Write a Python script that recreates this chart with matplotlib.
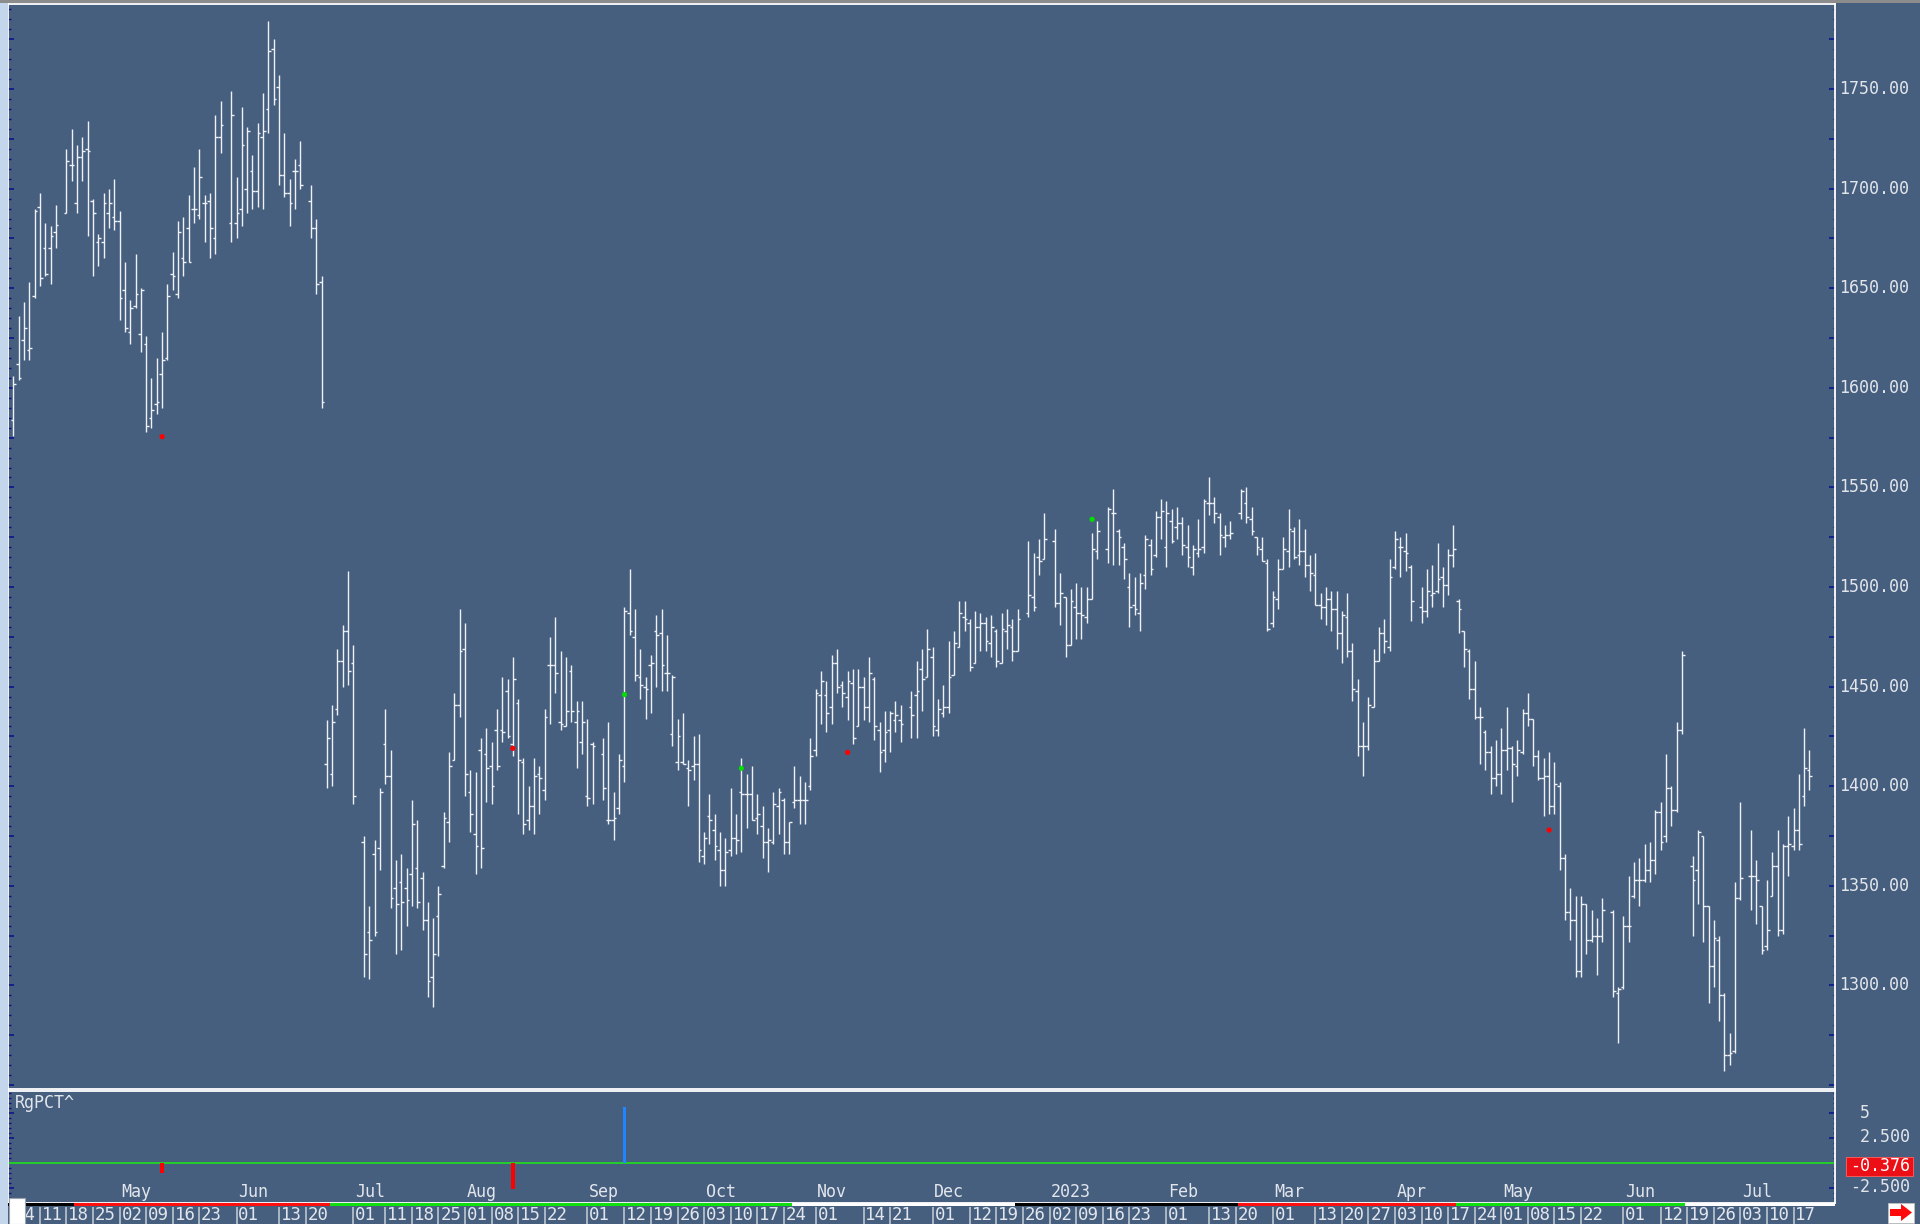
import numpy as np
import pandas as pd
import matplotlib
matplotlib.use("Agg")
import matplotlib.pyplot as plt
from matplotlib.ticker import MultipleLocator
from matplotlib.patches import Rectangle, Polygon
from matplotlib.transforms import blended_transform_factory

# ---------------- data ----------------
session_start = "2022-04-04"
session_end = "2023-07-20"
holidays = ["2022-04-15", "2022-05-30", "2022-06-20", "2022-07-04", "2022-09-05",
            "2022-11-24", "2022-12-26", "2023-01-02", "2023-01-16", "2023-02-20",
            "2023-04-07", "2023-05-29", "2023-06-19", "2023-07-04"]

opens = [
    1584, 1612, 1624, 1619, 1646, 1691, 1670, 1670, 1678,
    1688, 1712, 1693, 1716, 1720, 1694, 1673, 1673, 1688, 1686,
    1684, 1649, 1628, 1641, 1627, 1622, 1585, 1592, 1607, 1615,
    1657, 1647, 1665, 1680, 1690, 1687, 1693, 1694, 1675, 1726,
    1683, 1683, 1690, 1700, 1709, 1699, 1726, 1740, 1770, 1751,
    1707, 1698, 1709, 1712,
    1694, 1680, 1653, 1411, 1406, 1439, 1463, 1478, 1462,
    1372, 1327, 1366, 1369, 1421, 1405, 1349, 1352, 1349, 1356,
    1359, 1354, 1333, 1304, 1335, 1360, 1382, 1413, 1441, 1469,
    1397, 1376, 1418, 1416, 1410, 1428, 1428, 1448, 1421, 1442,
    1412, 1383, 1390, 1406, 1398, 1461, 1461, 1432, 1430, 1458,
    1432, 1422, 1395, 1421,
    1416, 1383, 1383, 1389, 1410, 1487, 1475, 1455, 1450, 1461,
    1478, 1477, 1457, 1426, 1412, 1412, 1409, 1410, 1411, 1365,
    1385, 1378, 1368, 1358, 1368, 1374, 1397, 1396, 1396, 1384,
    1380, 1372, 1372, 1390, 1393, 1372, 1392, 1393, 1393, 1400,
    1418, 1446, 1446, 1440, 1462, 1451, 1445, 1452, 1430, 1450,
    1440, 1454, 1428, 1418, 1428, 1433, 1433,
    1440, 1446, 1459, 1455, 1465, 1428, 1437, 1440, 1456, 1470,
    1485, 1482, 1462, 1480, 1482, 1472, 1478, 1462, 1478, 1480, 1468,
    1487, 1495, 1515, 1514,
    1523, 1492, 1495, 1471, 1490, 1487, 1485, 1494, 1518,
    1519, 1537, 1528, 1520, 1500, 1491, 1487, 1506, 1521, 1516,
    1535, 1520, 1533, 1530, 1532, 1520, 1510, 1517, 1520, 1542,
    1542, 1535, 1525, 1526,
    1537, 1542, 1534, 1525, 1519, 1512, 1482, 1494, 1509, 1518,
    1528, 1516, 1518, 1511, 1506, 1491, 1490, 1494, 1489, 1477,
    1485, 1468, 1448, 1420, 1420, 1440, 1463, 1477, 1470, 1510,
    1520, 1518, 1510,
    1490, 1488, 1496, 1498, 1505, 1501, 1516, 1493, 1478, 1468,
    1449, 1435, 1427, 1417, 1404, 1406, 1418, 1419, 1410, 1417,
    1437, 1434, 1415, 1404, 1405, 1390, 1400, 1364, 1337, 1333,
    1307, 1341, 1323, 1325, 1325,
    1337, 1296, 1299, 1330, 1345, 1353, 1353, 1358, 1363, 1387,
    1375, 1399, 1388, 1428,
    1360, 1358, 1375, 1340, 1310, 1323, 1295, 1265, 1267, 1344,
    1355, 1355, 1340, 1320, 1345, 1360, 1328, 1370, 1370, 1378, 1395, 1408,
]

highs = [
    1606, 1636, 1643, 1653, 1690, 1698, 1683, 1681, 1692,
    1720, 1730, 1722, 1726, 1734, 1695, 1677, 1698, 1700, 1705,
    1689, 1663, 1644, 1667, 1650, 1626, 1605, 1615, 1628, 1652,
    1668, 1684, 1686, 1697, 1711, 1720, 1697, 1698, 1737, 1744,
    1749, 1706, 1741, 1731, 1717, 1733, 1748, 1784, 1775, 1757,
    1728, 1705, 1715, 1724,
    1702, 1685, 1656, 1433, 1441, 1469, 1481, 1508, 1471,
    1375, 1340, 1373, 1399, 1439, 1418, 1363, 1366, 1359, 1393,
    1383, 1357, 1342, 1334, 1350, 1387, 1417, 1447, 1489, 1482,
    1408, 1407, 1424, 1429, 1422, 1439, 1455, 1454, 1465, 1444,
    1414, 1400, 1414, 1410, 1439, 1475, 1485, 1468, 1465, 1461,
    1443, 1443, 1434, 1422,
    1424, 1432, 1397, 1416, 1490, 1509, 1489, 1469, 1455, 1466,
    1486, 1489, 1476, 1456, 1434, 1437, 1413, 1425, 1426, 1377,
    1396, 1386, 1377, 1374, 1399, 1386, 1414, 1406, 1410, 1396,
    1390, 1379, 1397, 1399, 1394, 1382, 1410, 1405, 1402, 1424,
    1449, 1458, 1453, 1466, 1469, 1453, 1458, 1459, 1459, 1455,
    1465, 1455, 1432, 1438, 1438, 1443, 1441,
    1448, 1463, 1469, 1479, 1470, 1444, 1451, 1473, 1478, 1493,
    1493, 1484, 1488, 1487, 1485, 1486, 1479, 1487, 1489, 1484, 1489,
    1523, 1517, 1524, 1537,
    1529, 1507, 1495, 1499, 1502, 1500, 1500, 1527, 1533,
    1540, 1549, 1529, 1522, 1507, 1505, 1507, 1526, 1524, 1538,
    1544, 1543, 1539, 1540, 1535, 1531, 1521, 1534, 1544, 1555,
    1545, 1537, 1531, 1533,
    1549, 1550, 1540, 1525, 1525, 1514, 1498, 1514, 1525, 1539,
    1530, 1534, 1529, 1516, 1517, 1497, 1500, 1498, 1498, 1488,
    1497, 1472, 1454, 1432, 1445, 1469, 1480, 1484, 1514, 1528,
    1525, 1527, 1511,
    1500, 1509, 1511, 1522, 1510, 1519, 1531, 1494, 1478, 1469,
    1463, 1440, 1428, 1420, 1423, 1429, 1440, 1420, 1423, 1439,
    1447, 1434, 1418, 1414, 1417, 1412, 1402, 1366, 1349, 1345,
    1345, 1341, 1338, 1334, 1344,
    1338, 1299, 1335, 1355, 1362, 1364, 1371, 1372, 1388, 1392,
    1416, 1400, 1432, 1468,
    1365, 1378, 1375, 1340, 1333, 1325, 1296, 1276, 1352, 1392,
    1378, 1363, 1340, 1353, 1367, 1378, 1371, 1385, 1389, 1406, 1429, 1418,
]

lows = [
    1576, 1604, 1614, 1614, 1645, 1651, 1656, 1652, 1670,
    1688, 1704, 1688, 1704, 1676, 1656, 1661, 1665, 1680, 1679,
    1634, 1628, 1622, 1640, 1618, 1578, 1580, 1587, 1590, 1614,
    1649, 1645, 1656, 1663, 1683, 1685, 1673, 1665, 1667, 1718,
    1673, 1675, 1681, 1688, 1690, 1691, 1690, 1728, 1742, 1702,
    1696, 1681, 1690, 1700,
    1675, 1647, 1590, 1399, 1400, 1436, 1450, 1451, 1391,
    1304, 1303, 1325, 1358, 1401, 1339, 1316, 1318, 1330, 1340,
    1339, 1328, 1294, 1289, 1315, 1359, 1372, 1413, 1435, 1395,
    1377, 1356, 1359, 1392, 1391, 1408, 1422, 1424, 1415, 1386,
    1376, 1378, 1376, 1386, 1393, 1431, 1447, 1428, 1430, 1432,
    1409, 1416, 1390, 1391,
    1393, 1381, 1373, 1386, 1402, 1476, 1453, 1444, 1434, 1437,
    1450, 1448, 1448, 1420, 1408, 1411, 1390, 1403, 1362, 1361,
    1371, 1363, 1350, 1350, 1365, 1366, 1367, 1379, 1383, 1376,
    1364, 1357, 1371, 1376, 1366, 1366, 1389, 1381, 1381, 1398,
    1415, 1431, 1427, 1431, 1447, 1440, 1433, 1421, 1430, 1433,
    1432, 1423, 1407, 1412, 1417, 1427, 1422,
    1424, 1424, 1438, 1455, 1425, 1425, 1435, 1437, 1456, 1470,
    1478, 1458, 1462, 1468, 1468, 1465, 1460, 1462, 1469, 1463, 1468,
    1485, 1488, 1506, 1514,
    1490, 1481, 1465, 1471, 1474, 1474, 1482, 1494, 1514,
    1512, 1511, 1511, 1504, 1480, 1486, 1478, 1499, 1506, 1515,
    1524, 1510, 1522, 1524, 1516, 1510, 1506, 1515, 1517, 1536,
    1532, 1516, 1520, 1524,
    1534, 1532, 1526, 1516, 1513, 1478, 1480, 1489, 1509, 1510,
    1514, 1511, 1505, 1498, 1491, 1484, 1481, 1478, 1469, 1462,
    1465, 1443, 1415, 1405, 1418, 1440, 1463, 1467, 1468, 1509,
    1505, 1508, 1483,
    1482, 1485, 1490, 1497, 1490, 1496, 1510, 1477, 1460, 1444,
    1434, 1411, 1408, 1396, 1400, 1396, 1408, 1392, 1405, 1416,
    1430, 1410, 1403, 1385, 1386, 1386, 1358, 1333, 1323, 1304,
    1304, 1316, 1322, 1305, 1322,
    1294, 1271, 1298, 1322, 1344, 1340, 1352, 1352, 1356, 1368,
    1372, 1380, 1387, 1426,
    1325, 1341, 1322, 1291, 1299, 1282, 1257, 1260, 1266, 1343,
    1338, 1331, 1316, 1318, 1345, 1325, 1326, 1355, 1368, 1368, 1390, 1398,
]

closes = [
    1602, 1605, 1630, 1620, 1689, 1655, 1657, 1676, 1682,
    1714, 1712, 1716, 1719, 1719, 1688, 1675, 1693, 1693, 1684,
    1645, 1630, 1640, 1647, 1649, 1581, 1589, 1593, 1614, 1646,
    1656, 1678, 1663, 1663, 1690, 1706, 1693, 1680, 1726, 1732,
    1737, 1688, 1722, 1729, 1699, 1728, 1729, 1769, 1745, 1707,
    1698, 1693, 1709, 1702,
    1680, 1652, 1593, 1424, 1432, 1463, 1478, 1458, 1395,
    1316, 1323, 1327, 1397, 1405, 1344, 1341, 1342, 1343, 1381,
    1342, 1333, 1302, 1316, 1346, 1384, 1410, 1441, 1468, 1406,
    1386, 1370, 1369, 1409, 1400, 1410, 1427, 1425, 1454, 1413,
    1381, 1390, 1405, 1404, 1435, 1461, 1457, 1431, 1438, 1438,
    1438, 1432, 1394, 1420,
    1399, 1383, 1384, 1413, 1488, 1478, 1456, 1451, 1449, 1462,
    1476, 1461, 1457, 1455, 1425, 1411, 1408, 1411, 1368, 1374,
    1383, 1370, 1358, 1367, 1374, 1373, 1396, 1396, 1383, 1386,
    1372, 1373, 1391, 1397, 1372, 1382, 1393, 1393, 1393, 1415,
    1447, 1453, 1437, 1462, 1450, 1447, 1453, 1424, 1450, 1440,
    1457, 1430, 1417, 1427, 1437, 1436, 1431,
    1436, 1448, 1454, 1469, 1430, 1439, 1440, 1455, 1472, 1487,
    1484, 1460, 1480, 1482, 1473, 1480, 1463, 1479, 1481, 1468, 1484,
    1496, 1490, 1513, 1524,
    1492, 1497, 1471, 1493, 1487, 1486, 1494, 1519, 1528,
    1539, 1537, 1525, 1514, 1490, 1489, 1502, 1524, 1509, 1535,
    1538, 1537, 1523, 1532, 1521, 1515, 1519, 1519, 1543, 1542,
    1537, 1526, 1526, 1527,
    1548, 1535, 1528, 1520, 1513, 1479, 1495, 1509, 1519, 1529,
    1515, 1518, 1511, 1507, 1491, 1490, 1494, 1489, 1477, 1486,
    1468, 1449, 1420, 1420, 1441, 1463, 1477, 1473, 1505, 1524,
    1520, 1517, 1493,
    1488, 1498, 1497, 1504, 1501, 1516, 1519, 1489, 1469, 1449,
    1435, 1435, 1417, 1404, 1406, 1418, 1419, 1411, 1418, 1437,
    1434, 1415, 1404, 1405, 1390, 1401, 1364, 1337, 1333, 1307,
    1341, 1323, 1325, 1325, 1338,
    1297, 1298, 1330, 1330, 1353, 1353, 1358, 1363, 1387, 1372,
    1399, 1388, 1428, 1466,
    1353, 1377, 1340, 1310, 1324, 1295, 1265, 1266, 1344, 1354,
    1355, 1353, 1318, 1328, 1360, 1328, 1370, 1371, 1378, 1371, 1409, 1405,
]

signal_dates = ["2022-05-12", "2022-08-12", "2022-09-12", "2022-10-12",
                "2022-11-09", "2023-01-12", "2023-05-12"]
signal_prices = [1575.5, 1419, 1446, 1409, 1417, 1534, 1378]
signal_colors = ["#ff0000", "#ff0000", "#00e000", "#00e000", "#ff0000", "#00e000", "#ff0000"]

rg_dates = ["2022-05-12", "2022-08-12", "2022-09-12"]
rg_values = [-1.0, -2.6, 5.6]
rg_last = -0.376

price_ticks = [1300, 1350, 1400, 1450, 1500, 1550, 1600, 1650, 1700, 1750]
rg_tick_values = [5, 2.5, -2.5]
rg_tick_labels = [" 5", " 2.500", "-2.500"]

week_label_dates = [
    "2022-04-04", "2022-04-11", "2022-04-18", "2022-04-25", "2022-05-02", "2022-05-09",
    "2022-05-16", "2022-05-23", "2022-06-01", "2022-06-13", "2022-06-20", "2022-07-01",
    "2022-07-11", "2022-07-18", "2022-07-25", "2022-08-01", "2022-08-08", "2022-08-15",
    "2022-08-22", "2022-09-01", "2022-09-12", "2022-09-19", "2022-09-26", "2022-10-03",
    "2022-10-10", "2022-10-17", "2022-10-24", "2022-11-01", "2022-11-14", "2022-11-21",
    "2022-12-01", "2022-12-12", "2022-12-19", "2022-12-26", "2023-01-02", "2023-01-09",
    "2023-01-16", "2023-01-23", "2023-02-01", "2023-02-13", "2023-02-20", "2023-03-01",
    "2023-03-13", "2023-03-20", "2023-03-27", "2023-04-03", "2023-04-10", "2023-04-17",
    "2023-04-24", "2023-05-01", "2023-05-08", "2023-05-15", "2023-05-22", "2023-06-01",
    "2023-06-12", "2023-06-19", "2023-06-26", "2023-07-03", "2023-07-10", "2023-07-17"]

month_label_dates = ["2022-05-02", "2022-06-01", "2022-07-01", "2022-08-01", "2022-09-01",
                     "2022-10-03", "2022-11-01", "2022-12-01", "2023-01-02", "2023-02-01",
                     "2023-03-01", "2023-04-03", "2023-05-01", "2023-06-01", "2023-07-03"]
month_label_text = ["May", "Jun", "Jul", "Aug", "Sep", "Oct", "Nov", "Dec", "2023",
                    "Feb", "Mar", "Apr", "May", "Jun", "Jul"]

contract_switch_dates = ["2022-04-20", "2022-06-27", "2022-10-26", "2022-12-23",
                         "2023-02-21", "2023-04-19", "2023-06-19"]
contract_colors = ["#000000", "#ff1010", "#10e010", "#ffffff",
                   "#000000", "#ff1010", "#10e010", "#ffffff"]

# ---------------- calendar ----------------
slots = pd.bdate_range(session_start, session_end)
slot_pos = {d: i for i, d in enumerate(slots)}
hol = set(pd.to_datetime(holidays))
trade_days = [d for d in slots if d not in hol]
n = len(trade_days)
assert len(opens) == n and len(highs) == n and len(lows) == n and len(closes) == n, \
    (n, len(opens), len(highs), len(lows), len(closes))
xs = np.array([slot_pos[d] for d in trade_days], dtype=float)

def pos(date_str):
    return slot_pos[pd.Timestamp(date_str)]

# ---------------- style ----------------
BG = "#475f7f"
FG = "#e2e6ec"
TICK = "#0c168c"
BAR = "#eef1f5"
W, H = 1920, 1224
plt.rcParams["font.family"] = ["DejaVu Sans Mono"]
plt.rcParams["font.size"] = 12

fig = plt.figure(figsize=(W / 100, H / 100), dpi=100, facecolor=BG)

def rect(x0, y0, x1, y1):
    return [x0 / W, 1 - y1 / H, (x1 - x0) / W, (y1 - y0) / H]

def fpx(x, y):
    return (x / W, 1 - y / H)

# frame decorations
fig.patches.append(Rectangle(fpx(0, H), 8 / W, 1, transform=fig.transFigure,
                             facecolor="#c3d6ec", edgecolor="none", zorder=0))
fig.patches.append(Rectangle(fpx(0, 3), 1, 3 / H, transform=fig.transFigure,
                             facecolor="#8c8c8c", edgecolor="none", zorder=0))

XL = (-1.0, 342.8)

# ---------------- main price panel ----------------
ax = fig.add_axes(rect(8, 4, 1835, 1089))
ax.set_facecolor(BG)
ax.set_xlim(*XL)
ax.set_ylim(1248.0, 1792.7)
ax.vlines(xs, lows, highs, colors=BAR, linewidth=1.0)
ax.hlines(opens, xs - 0.5, xs, colors=BAR, linewidth=1.0)
ax.hlines(closes, xs, xs + 0.5, colors=BAR, linewidth=1.0)
sx = [pos(d) for d in signal_dates]
ax.scatter(sx, signal_prices, s=14, c=signal_colors, zorder=5, linewidths=0)

ax.yaxis.set_major_locator(MultipleLocator(25))
ax.yaxis.set_minor_locator(MultipleLocator(5))
ax.tick_params(axis="y", which="both", direction="in", left=True, right=True,
               labelleft=False, labelright=False, color=TICK)
ax.tick_params(axis="y", which="major", length=4, width=1.2)
ax.tick_params(axis="y", which="minor", length=1.8, width=1.0)
ax.tick_params(axis="x", which="both", bottom=False, labelbottom=False)
for sp in ax.spines.values():
    sp.set_color("white")
    sp.set_linewidth(1.3)

tr_main = blended_transform_factory(fig.transFigure, ax.transData)
for v in price_ticks:
    ax.text(1839 / W, v, f"{v:.2f}", transform=tr_main, ha="left", va="center",
            color=FG, fontsize=12, clip_on=False)

# ---------------- RgPCT panel ----------------
ax2 = fig.add_axes(rect(8, 1091, 1835, 1203))
ax2.set_facecolor(BG)
ax2.set_xlim(*XL)
ax2.set_ylim(-4.05, 7.15)
ax2.axhline(0, color="#22d02a", linewidth=1.4, zorder=2)
rx = [pos(d) for d in rg_dates]
rcol = ["#1e86ff" if v > 0 else "#ff0000" for v in rg_values]
ax2.bar(rx, rg_values, width=0.7, color=rcol, zorder=3)
ax2.yaxis.set_major_locator(MultipleLocator(2.5))
ax2.yaxis.set_minor_locator(MultipleLocator(0.5))
ax2.tick_params(axis="y", which="both", direction="in", left=True, right=True,
                labelleft=False, labelright=False, color=TICK)
ax2.tick_params(axis="y", which="major", length=4, width=1.2)
ax2.tick_params(axis="y", which="minor", length=1.8, width=1.0)
ax2.tick_params(axis="x", which="both", bottom=False, labelbottom=False)
for sp in ax2.spines.values():
    sp.set_color("white")
    sp.set_linewidth(1.3)
fig.text(15 / W, 1 - 1103 / H, "RgPCT^", color=FG, fontsize=12, ha="left", va="center")

tr_rg = blended_transform_factory(fig.transFigure, ax2.transData)
for v, lab in zip(rg_tick_values, rg_tick_labels):
    ax2.text(1850 / W, v, lab, transform=tr_rg, ha="left", va="center",
             color=FG, fontsize=12, clip_on=False)
# last value box
ax2.add_patch(Rectangle((1846 / W, rg_last - 0.95), 67 / W, 1.9, transform=tr_rg,
                        facecolor="#ec1016", edgecolor="#ff6060", linewidth=0.6,
                        clip_on=False, zorder=6))
ax2.text(1850 / W, rg_last, f"{rg_last:.3f}", transform=tr_rg, ha="left", va="center",
         color="white", fontsize=12, clip_on=False, zorder=7)

tr_month = blended_transform_factory(ax2.transData, ax2.transAxes)
for d, t in zip(month_label_dates, month_label_text):
    ax2.text(pos(d) + 0.3, 0.095, t, transform=tr_month, ha="left", va="center",
             color=FG, fontsize=12, zorder=4)

# ---------------- date strip ----------------
ax3 = fig.add_axes(rect(8, 1203, 1835, 1224))
ax3.set_facecolor(BG)
ax3.set_xlim(*XL)
ax3.set_ylim(21, 0)
ax3.axis("off")
edges = [XL[0]] + [pos(d) - 0.5 for d in contract_switch_dates] + [XL[1]]
for i, c in enumerate(contract_colors):
    ax3.add_patch(Rectangle((edges[i], 0), edges[i + 1] - edges[i], 2.6,
                            facecolor=c, edgecolor="none"))
wx = [pos(d) for d in week_label_dates]
ax3.vlines(wx, 3.5, 21, colors="#c8ced8", linewidth=1.1)
for d, x in zip(week_label_dates, wx):
    ax3.text(x + 0.35, 12.5, pd.Timestamp(d).strftime("%d"), ha="left", va="center",
             color=FG, fontsize=12.5)

# white corner box and arrow button
fig.patches.append(Rectangle(fpx(9, 1224), 16 / W, 26 / H, transform=fig.transFigure,
                             facecolor="white", edgecolor="#9aa4b0", linewidth=0.8, zorder=10))
fig.patches.append(Rectangle(fpx(1888, 1223), 26 / W, 20 / H, transform=fig.transFigure,
                             facecolor="white", edgecolor="#c0c0c0", linewidth=0.6, zorder=10))
arrow_px = [(1890, 1209), (1901, 1209), (1901, 1204), (1912, 1212.5),
            (1901, 1221), (1901, 1216), (1890, 1216)]
fig.patches.append(Polygon([fpx(x, y) for x, y in arrow_px], closed=True,
                           transform=fig.transFigure, facecolor="#ff0a0a",
                           edgecolor="none", zorder=11))

fig.savefig("out.png", dpi=100, facecolor=BG)
